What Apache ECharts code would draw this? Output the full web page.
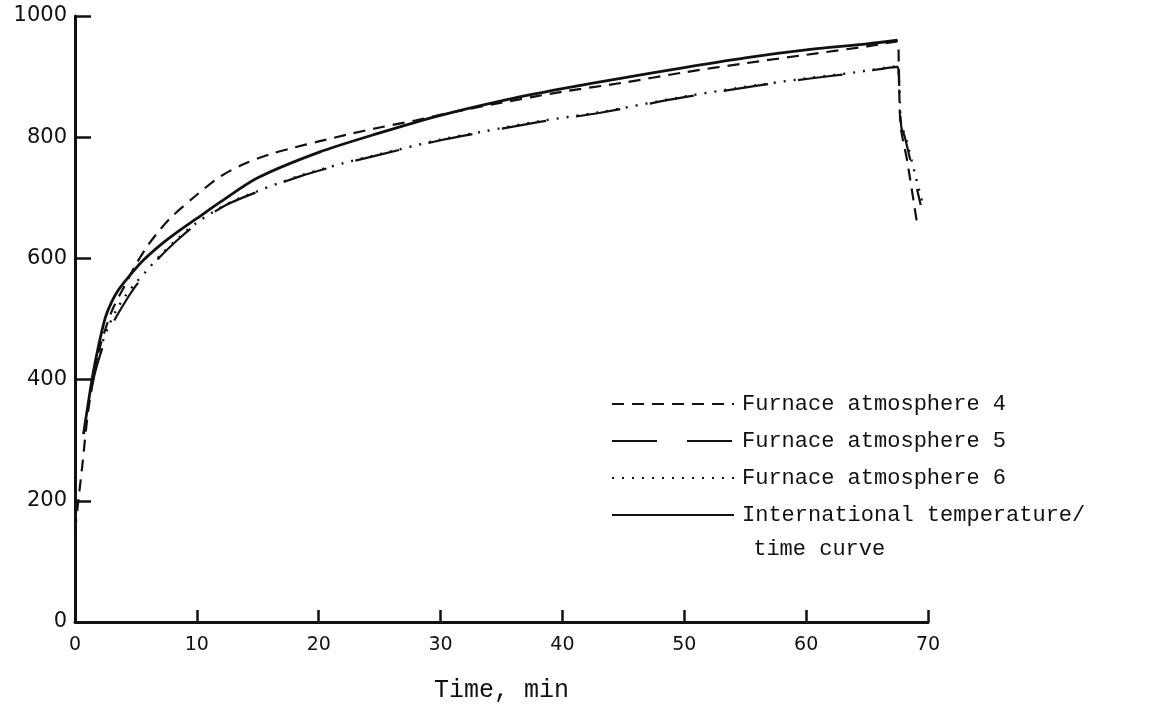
<!DOCTYPE html>
<html>
<head>
<meta charset="utf-8">
<script src="https://cdn.jsdelivr.net/npm/echarts@6/dist/echarts.min.js"></script>
<style>
html,body{margin:0;padding:0;background:#fff;}
#chart{width:1174px;height:704px;}
</style>
</head>
<body>
<div id="chart"></div>
<script>
// Time (min) / temperature (°C) readings from the reference picture
const xTicks = [0, 10, 20, 30, 40, 50, 60, 70];
const yTicks = [0, 200, 400, 600, 800, 1000];
const seriesNames = ['Furnace atmosphere 4', 'Furnace atmosphere 5', 'Furnace atmosphere 6', 'International temperature/'];
const legendSecondLine = ' time curve';
const xTitle = 'Time, min';

const fa4 = [[0, 150], [0.3, 205], [0.6, 258], [1.0, 335], [1.4, 390], [2, 450], [3, 512], [4, 552], [5, 590], [6, 622], [7, 648], [8, 670], [10, 705], [12, 736], [14, 757], [16, 772], [18, 783], [20, 793], [22.5, 805], [25, 816], [28, 828], [30.7, 840], [35, 857], [40, 875], [45, 890], [50, 907], [55, 922], [60, 936], [65, 950], [67.5, 958], [67.6, 925], [67.75, 820], [68.3, 760], [69.1, 658]];
const fa5 = [[1.3, 380], [1.7, 416], [2.2, 449], [2.8, 480], [3.4, 504], [4.2, 531], [5, 555], [5.8, 575], [7, 603], [8.5, 632], [10, 657], [12.4, 688], [15, 710], [18.4, 735], [22, 756], [25.2, 772], [30, 795], [33.4, 808], [38, 825], [43, 840], [50, 866], [56, 885], [60, 896], [64, 906], [67.5, 916], [67.6, 900], [67.8, 818], [68.1, 800], [68.8, 740], [69.4, 688]];
const fa6 = [[1.5, 400], [2.2, 458], [2.8, 490], [3.4, 515], [4.2, 540], [5, 560], [5.8, 578], [7, 605], [8.5, 634], [10, 659], [12.4, 689], [15, 711], [18.4, 736], [22, 757], [25.2, 773], [30, 796], [33.4, 809], [38, 826], [43, 841], [50, 867], [56, 886], [60, 897], [64, 907], [67.5, 917], [67.6, 902], [67.8, 820], [68.1, 804], [68.9, 742], [69.5, 695]];
const iso = [[0.7, 310], [1, 350], [1.5, 412], [2, 462], [2.5, 503], [3, 528], [3.6, 549], [4.5, 572], [5.5, 595], [7, 622], [8.5, 645], [10, 666], [12, 694], [15, 733], [20, 775], [25, 807], [30, 836], [35, 860], [40, 880], [45, 898], [50, 915], [55, 931], [60, 944], [65, 954], [67.5, 960]];

const chart = echarts.init(document.getElementById('chart'), null, {renderer: 'canvas'});
const ink = '#111';
function lineSeries(name, data, width, dash) {
  return {
    name: name, type: 'line', data: data, showSymbol: false, symbol: 'none',
    smooth: 0.3,
    lineStyle: {color: ink, width: width, type: dash},
    itemStyle: {color: ink},
    z: 3
  };
}
chart.setOption({
  animation: false,
  backgroundColor: '#fff',
  grid: {left: 75, right: 246, top: 16, bottom: 82, containLabel: false, outerBoundsMode: 'none'},
  xAxis: {
    type: 'value', min: xTicks[0], max: xTicks[xTicks.length - 1], interval: 10,
    name: xTitle, nameLocation: 'middle', nameGap: 56,
    nameTextStyle: {fontFamily: 'Liberation Mono', fontSize: 25, color: ink},
    axisLine: {lineStyle: {color: ink, width: 3}},
    axisTick: {inside: true, length: 12, lineStyle: {color: ink, width: 2.5}},
    axisLabel: {margin: 14, fontFamily: 'DejaVu Sans', fontSize: 19, color: ink},
    splitLine: {show: false}
  },
  yAxis: {
    type: 'value', min: yTicks[0], max: yTicks[yTicks.length - 1], interval: 200,
    axisLine: {show: true, lineStyle: {color: ink, width: 3}},
    axisTick: {show: true, inside: true, length: 16, lineStyle: {color: ink, width: 2.5}},
    axisLabel: {margin: 8, fontFamily: 'DejaVu Sans', fontSize: 21, color: ink, formatter: function (v) { return String(v); }},
    splitLine: {show: false}
  },
  legend: {
    orient: 'vertical', left: 606, top: 387,
    data: seriesNames,
    itemWidth: 122, itemHeight: 14, itemGap: 13,
    itemStyle: {opacity: 0},
    textStyle: {fontFamily: 'Liberation Mono', fontSize: 22, color: ink, lineHeight: 24, padding: [0, 0, 0, 3]},
    selectedMode: false
  },
  graphic: [{
    type: 'text', left: 740, top: 538,
    style: {text: legendSecondLine, fontFamily: 'Liberation Mono', fontSize: 22, fill: ink}
  }],
  series: [
    lineSeries(seriesNames[0], fa4, 2.2, [12, 8]),
    lineSeries(seriesNames[1], fa5, 2.2, [45, 30]),
    lineSeries(seriesNames[2], fa6, 2.4, [2, 8]),
    lineSeries(seriesNames[3], iso, 2.8, 'solid')
  ]
});
</script>
</body>
</html>
